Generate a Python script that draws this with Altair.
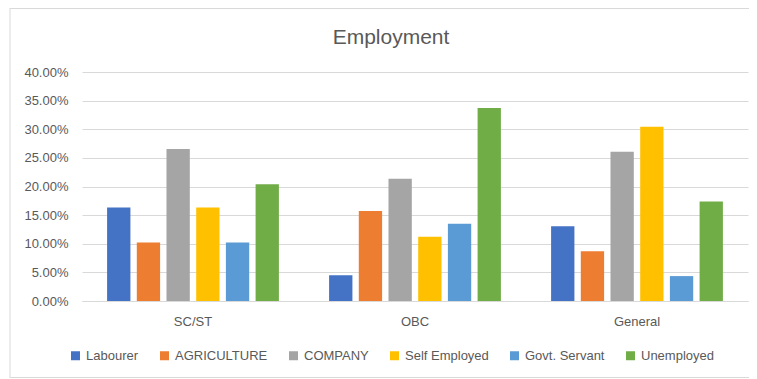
import altair as alt
import pandas as pd

groups = ["SC/ST", "OBC", "General"]
series = ["Labourer", "AGRICULTURE", "COMPANY", "Self Employed", "Govt. Servant", "Unemployed"]
colors = ["#4472C4", "#ED7D31", "#A5A5A5", "#FFC000", "#5B9BD5", "#70AD47"]

sc_st = [0.1633, 0.1020, 0.2653, 0.1633, 0.1020, 0.2041]
obc = [0.0449, 0.1573, 0.2135, 0.1124, 0.1348, 0.3371]
general = [0.1304, 0.0870, 0.2609, 0.3043, 0.0435, 0.1739]

y_ticks = [0, 0.05, 0.10, 0.15, 0.20, 0.25, 0.30, 0.35, 0.40]

rows = []
for g, vals in zip(groups, [sc_st, obc, general]):
    for s, v in zip(series, vals):
        rows.append({"group": g, "series": s, "value": v})
df = pd.DataFrame(rows)

font = "Liberation Sans"
grey = "#595959"
line = "#D9D9D9"

bars = alt.Chart(df).mark_bar().encode(
    x=alt.X(
        "group:N",
        sort=groups,
        scale=alt.Scale(paddingInner=0, paddingOuter=0),
        axis=alt.Axis(
            title=None, labelAngle=0, labelPadding=14, ticks=False,
            domainColor=line, domainWidth=1, labelFontSize=13,
            labelColor=grey, labelFont=font,
        ),
    ),
    xOffset=alt.XOffset(
        "series:N", sort=series,
        scale=alt.Scale(paddingInner=0.215, paddingOuter=0.845),
    ),
    y=alt.Y(
        "value:Q",
        scale=alt.Scale(domain=[0, 0.4]),
        axis=alt.Axis(
            title=None, format=".2%", values=y_ticks, grid=True,
            gridColor=line, gridWidth=1, domain=False, ticks=False,
            labelPadding=14, labelFontSize=13, labelColor=grey, labelFont=font,
        ),
    ),
    color=alt.Color(
        "series:N",
        sort=series,
        scale=alt.Scale(domain=series, range=colors),
        legend=alt.Legend(
            title=None, orient="none", legendX=-13, legendY=277,
            direction="horizontal", symbolType="square", symbolSize=81,
            symbolStrokeWidth=0, labelFontSize=13, labelColor=grey,
            labelFont=font, columnPadding=19, labelOffset=4,
        ),
    ),
)

frame_df = pd.DataFrame({"k": [0]})
left_rule = alt.Chart(frame_df).mark_rule(color=line, strokeWidth=1).encode(
    x=alt.value(-72), y=alt.value(-64), y2=alt.value(306)
)
top_rule = alt.Chart(frame_df).mark_rule(color=line, strokeWidth=1).encode(
    x=alt.value(-72), x2=alt.value(668), y=alt.value(-63.5)
)
bottom_rule = alt.Chart(frame_df).mark_rule(color=line, strokeWidth=1).encode(
    x=alt.value(-72), x2=alt.value(668), y=alt.value(305.5)
)

chart = alt.layer(bars, left_rule, top_rule, bottom_rule).properties(
    width=666,
    height=229,
    title=alt.TitleParams(
        "Employment", fontSize=21, font=font, color=grey, fontWeight="normal",
        anchor="middle", dx=-24, offset=-40,
    ),
    autosize=alt.AutoSizeParams(type="none"),
    padding={"left": 74, "top": 64, "right": 1, "bottom": 77},
    background="white",
).configure_view(stroke=None)

chart.save("out.html", embed_options={"renderer": "svg", "actions": False})
